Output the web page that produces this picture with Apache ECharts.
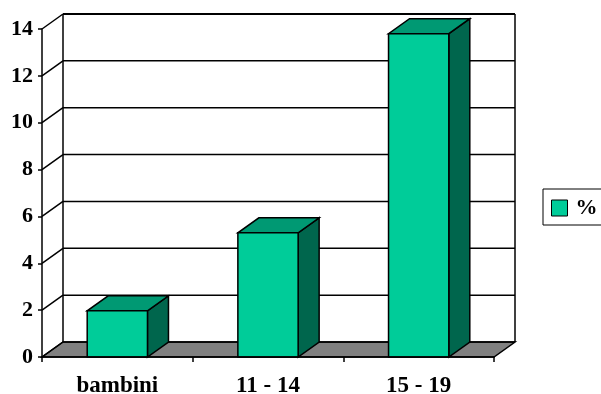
<!DOCTYPE html>
<html>
<head>
<meta charset="utf-8">
<script src="https://cdn.jsdelivr.net/npm/echarts@6/dist/echarts.min.js"></script>
<style>
  html, body { margin: 0; padding: 0; background: #fff; overflow: hidden; }
  #chart { width: 601px; height: 394px; }
</style>
</head>
<body>
<div id="chart"></div>
<script>
// Age groups and their share (%)
const categories = ['bambini', '11 - 14', '15 - 19'];
const percentValues = [1.97, 5.3, 13.8];
const seriesName = '%';
const yMin = 0;
const yMax = 14;
const yStep = 2;

// 3D depth offset of the back wall, in pixels
const DX = 21;
const DY = -15;

const FONT = '"Liberation Serif", "Times New Roman", serif';
const FRONT = '#00CC99';
const TOP = '#009973';
const SIDE = '#00664D';
const FLOOR = '#808080';
const EDGE = '#000';

const yTicks = [];
for (let v = yMin; v <= yMax; v += yStep) yTicks.push(v);

function seg(x1, y1, x2, y2, w) {
  return {
    type: 'line',
    shape: { x1, y1, x2, y2 },
    style: { stroke: EDGE, lineWidth: w || 1.5 }
  };
}

// Walls, floor and back-wall gridlines of the 3D box
function renderFrame(params, api) {
  const cs = params.coordSys;
  const x0 = cs.x, x1 = cs.x + cs.width;
  const yb = api.coord([0, yMin])[1];
  const yt = api.coord([0, yMax])[1];
  const children = [];
  children.push({
    type: 'polygon',
    shape: { points: [[x0, yb], [x1, yb], [x1 + DX, yb + DY], [x0 + DX, yb + DY]] },
    style: { fill: FLOOR, stroke: EDGE, lineWidth: 1.5 }
  });
  yTicks.forEach(function (v) {
    const y = api.coord([0, v])[1];
    children.push(seg(x0 + DX, y + DY, x1 + DX, y + DY, v === yMax ? 2 : 1.5));
    children.push(seg(x0, y, x0 + DX, y + DY));
  });
  children.push(seg(x0 + DX, yt + DY, x0 + DX, yb + DY));
  children.push(seg(x1 + DX, yt + DY, x1 + DX, yb + DY));
  return { type: 'group', children };
}

// Each column as a box: front face, top and right side
function renderBar(params, api) {
  const idx = api.value(0);
  const val = api.value(1);
  const base = api.coord([idx, 0]);
  const top = api.coord([idx, val]);
  const w = api.size([1, 0])[0] * 0.4;
  const xl = base[0] - w / 2, xr = base[0] + w / 2;
  const yb = base[1], yt = top[1];
  return {
    type: 'group',
    children: [
      {
        type: 'polygon',
        shape: { points: [[xr, yt], [xr + DX, yt + DY], [xr + DX, yb + DY], [xr, yb]] },
        style: { fill: SIDE, stroke: EDGE, lineWidth: 1.5 }
      },
      {
        type: 'polygon',
        shape: { points: [[xl, yt], [xr, yt], [xr + DX, yt + DY], [xl + DX, yt + DY]] },
        style: { fill: TOP, stroke: EDGE, lineWidth: 1.5 }
      },
      {
        type: 'rect',
        shape: { x: xl, y: yt, width: w, height: yb - yt },
        style: { fill: FRONT, stroke: EDGE, lineWidth: 1.5 }
      }
    ]
  };
}

const chart = echarts.init(document.getElementById('chart'), null, { renderer: 'canvas' });
chart.setOption({
  animation: false,
  backgroundColor: '#fff',
  grid: { left: 42, right: 107, top: 29, bottom: 37, containLabel: false, outerBoundsMode: 'none' },
  legend: {
    data: [{ name: seriesName, icon: 'rect' }],
    left: 543,
    top: 189,
    padding: [8, 16, 6, 8],
    borderColor: '#000',
    borderWidth: 1,
    itemWidth: 16,
    itemHeight: 16,
    itemGap: 5,
    itemStyle: { borderColor: '#000', borderWidth: 1 },
    textStyle: { fontFamily: FONT, fontWeight: 'bold', fontSize: 22, color: '#000', padding: [2, 0, 0, 3] }
  },
  xAxis: {
    type: 'category',
    data: categories,
    axisLine: { show: true, lineStyle: { color: '#000', width: 1.5 } },
    axisTick: { show: true, length: 5, lineStyle: { color: '#000', width: 1.5 } },
    axisLabel: { fontFamily: FONT, fontWeight: 'bold', fontSize: 23, color: '#000', margin: 18 },
    splitLine: { show: false },
    z: 10
  },
  yAxis: {
    type: 'value',
    min: yMin,
    max: yMax,
    interval: yStep,
    axisLine: { show: true, lineStyle: { color: '#000', width: 1.5 } },
    axisTick: { show: true, length: 4, lineStyle: { color: '#000', width: 1.5 } },
    axisLabel: { fontFamily: FONT, fontWeight: 'bold', fontSize: 22, color: '#000', margin: 9, padding: [3, 0, 0, 0] },
    splitLine: { show: false },
    z: 10
  },
  series: [
    {
      type: 'custom',
      name: 'frame',
      renderItem: renderFrame,
      data: [[0, 0]],
      silent: true,
      z: 1
    },
    {
      type: 'custom',
      name: seriesName,
      renderItem: renderBar,
      itemStyle: { color: FRONT },
      data: categories.map(function (c, i) { return [i, percentValues[i]]; }),
      z: 5
    }
  ]
});
</script>
</body>
</html>
